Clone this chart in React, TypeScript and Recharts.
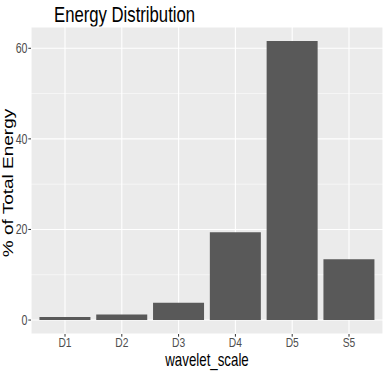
import { BarChart, Bar, XAxis, YAxis, CartesianGrid } from "recharts";

const scales = ["D1", "D2", "D3", "D4", "D5", "S5"];
const energy = [0.65, 1.2, 3.8, 19.4, 61.6, 13.4];
const yTicks = [0, 20, 40, 60];
const yMinor = [10, 30, 50];

const data = scales.map((s, i) => ({ scale: s, energy: energy[i] }));

const font = "'Liberation Sans', Arial, sans-serif";
// the reference is squeezed horizontally, text included
const squeeze = 0.76;

const XTick = (props: any) => {
  const { x, payload } = props;
  return (
    <text
      transform={`translate(${x},347) scale(${squeeze},1)`}
      textAnchor="middle"
      fill="#4D4D4D"
      fontSize={13.5}
      fontFamily={font}
    >
      {payload.value}
    </text>
  );
};

const YTick = (props: any) => {
  const { y, payload } = props;
  return (
    <text
      transform={`translate(27.5,${y + 5}) scale(${squeeze},1)`}
      textAnchor="end"
      fill="#4D4D4D"
      fontSize={14}
      fontFamily={font}
    >
      {payload.value}
    </text>
  );
};

export default function App() {
  return (
    <div style={{ position: "absolute", left: 0, top: 0, width: 388, height: 374, background: "#fff" }}>
      <svg width={388} height={27} style={{ position: "absolute", left: 0, top: 0 }}>
        <text transform={`translate(54,22) scale(${squeeze},1)`} fill="#000" fontSize={22} fontFamily={font}>
          Energy Distribution
        </text>
      </svg>
      <BarChart
        width={388}
        height={374}
        data={data}
        margin={{ top: 27, right: 5, bottom: 0, left: 0 }}
        barCategoryGap="5%"
      >
        <CartesianGrid fill="#EBEBEB" stroke="#fff" strokeWidth={0.55} vertical={false} horizontalValues={yMinor} />
        <CartesianGrid fill="none" stroke="#fff" strokeWidth={1.1} />
        <XAxis
          dataKey="scale"
          height={40}
          padding={{ left: 5.6, right: 5.6 }}
          axisLine={false}
          tickSize={2.7}
          tickLine={{ stroke: "#333" }}
          tick={<XTick />}
          label={{
            content: () => (
              <text
                transform={`translate(207,366) scale(${squeeze},1)`}
                textAnchor="middle"
                fill="#000"
                fontSize={17.5}
                fontFamily={font}
              >
                wavelet_scale
              </text>
            ),
          }}
        />
        <YAxis
          width={31}
          domain={[-3.08, 64.7]}
          ticks={yTicks}
          axisLine={false}
          tickSize={2.7}
          tickLine={{ stroke: "#333" }}
          tick={<YTick />}
          label={{
            content: () => (
              <text
                transform={`translate(13,183) scale(${squeeze},1) rotate(-90)`}
                textAnchor="middle"
                fill="#000"
                fontSize={19}
                fontFamily={font}
              >
                % of Total Energy
              </text>
            ),
          }}
        />
        <Bar dataKey="energy" fill="#595959" isAnimationActive={false} />
      </BarChart>
    </div>
  );
}
